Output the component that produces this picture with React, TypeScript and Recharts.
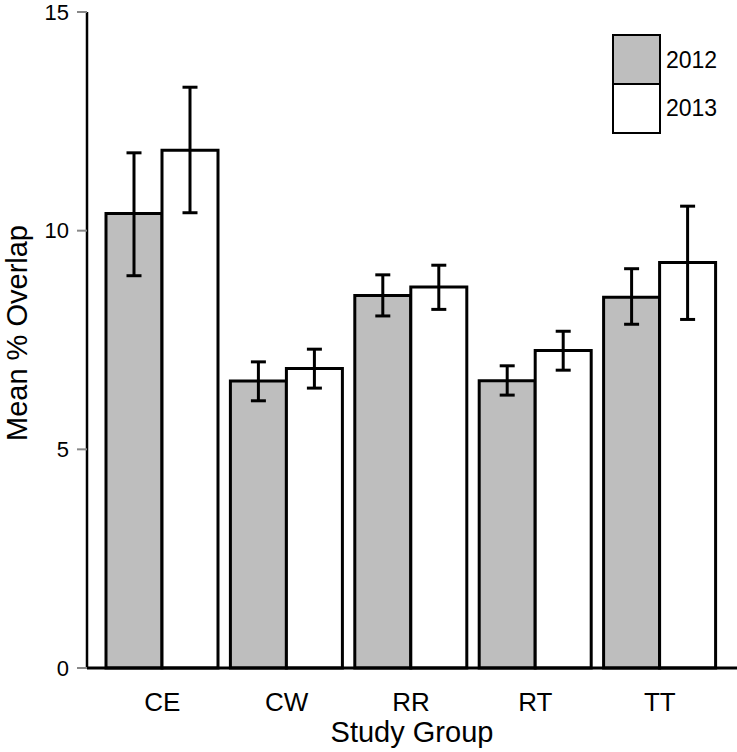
import React from 'react';
import { BarChart, Bar, XAxis, YAxis, ErrorBar } from 'recharts';

// study groups along the x axis
const groups = ['CE', 'CW', 'RR', 'RT', 'TT'];

// mean % overlap per year
const mean2012 = [10.39, 6.56, 8.52, 6.57, 8.48];
const mean2013 = [11.84, 6.85, 8.71, 7.26, 9.27];

// error bar ends (lower, upper) per year
const low2012 = [8.97, 6.11, 8.05, 6.24, 7.86];
const high2012 = [11.78, 7.0, 8.99, 6.91, 9.13];
const low2013 = [10.41, 6.4, 8.2, 6.81, 7.97];
const high2013 = [13.28, 7.29, 9.21, 7.7, 10.56];

const yTicks = [0, 5, 10, 15];
const years = ['2012', '2013'];
const fills = ['#bebebe', '#ffffff'];

const data = groups.map((g, i) => ({
  group: g,
  y2012: mean2012[i],
  y2013: mean2013[i],
  err2012: [mean2012[i] - low2012[i], high2012[i] - mean2012[i]],
  err2013: [mean2013[i] - low2013[i], high2013[i] - mean2013[i]],
}));

const FONT = '"Liberation Sans", Arial, Helvetica, sans-serif';

// legend drawn as stacked boxes with labels on the right
function YearLegend() {
  return (
    <div
      style={{
        position: 'absolute',
        top: 34,
        left: 612,
        display: 'flex',
        fontFamily: FONT,
      }}
    >
      <div style={{ border: '2px solid #000', width: 45 }}>
        {years.map((y, i) => (
          <div
            key={y}
            style={{
              height: 47,
              background: fills[i],
              borderTop: i > 0 ? '2px solid #000' : 'none',
            }}
          />
        ))}
      </div>
      <div style={{ marginLeft: 5 }}>
        {years.map((y) => (
          <div
            key={y}
            style={{ height: 48, lineHeight: '52px', fontSize: 23, color: '#000' }}
          >
            {y}
          </div>
        ))}
      </div>
    </div>
  );
}

export default function App() {
  return (
    <div style={{ position: 'absolute', left: 0, top: 0, width: 737, height: 752, background: '#fff' }}>
      <BarChart
        width={737}
        height={752}
        data={data}
        margin={{ top: 12, right: 0, bottom: 0, left: 0 }}
        barCategoryGap={6}
        barGap={0}
        style={{ fontFamily: FONT }}
      >
        <XAxis
          dataKey="group"
          height={84}
          padding={{ left: 13, right: 15 }}
          axisLine={{ stroke: '#000', strokeWidth: 3 }}
          tickLine={false}
          tickSize={0}
          tickMargin={25}
          tick={{ fill: '#000', fontSize: 26 }}
          label={{
            value: 'Study Group',
            position: 'insideBottom',
            offset: 10,
            fontSize: 29,
            fill: '#000',
          }}
        />
        <YAxis
          width={87}
          domain={[0, 15]}
          ticks={yTicks}
          interval={0}
          axisLine={{ stroke: '#000', strokeWidth: 2.5 }}
          tickLine={{ stroke: '#888', strokeWidth: 2 }}
          tickSize={10}
          tickMargin={8}
          tick={{ fill: '#000', fontSize: 22 }}
          label={{
            content: () => (
              <text
                x={27}
                y={333}
                transform="rotate(-90 27 333)"
                textAnchor="middle"
                fontSize={29}
                fill="#000"
                fontFamily={FONT}
              >
                Mean % Overlap
              </text>
            ),
          }}
        />
        <Bar
          dataKey="y2012"
          name="2012"
          fill={fills[0]}
          stroke="#000"
          strokeWidth={3}
          isAnimationActive={false}
        >
          <ErrorBar dataKey="err2012" direction="y" width={7.5} stroke="#000" strokeWidth={3} />
        </Bar>
        <Bar
          dataKey="y2013"
          name="2013"
          fill={fills[1]}
          stroke="#000"
          strokeWidth={3}
          isAnimationActive={false}
        >
          <ErrorBar dataKey="err2013" direction="y" width={7.5} stroke="#000" strokeWidth={3} />
        </Bar>
      </BarChart>
      <YearLegend />
    </div>
  );
}
